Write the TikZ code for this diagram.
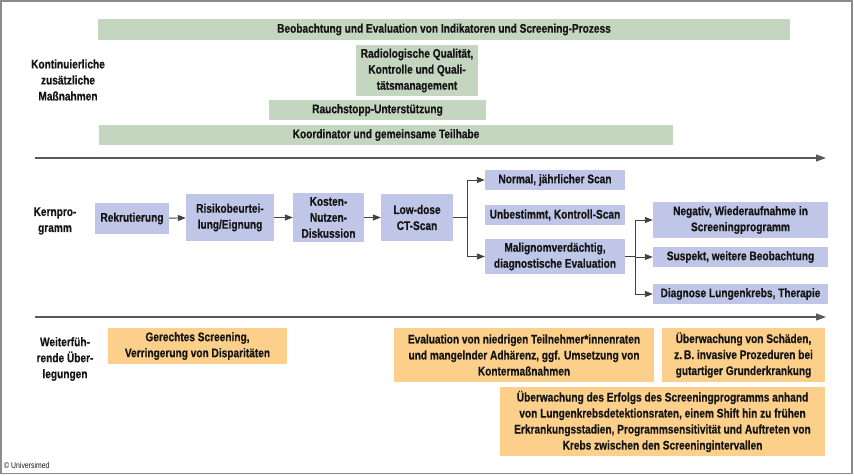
\documentclass[tikz,border=0pt]{standalone}
\usepackage{fontspec}
\setmainfont[FakeStretch=0.81,BoldFeatures={FakeBold=0.5}]{Liberation Sans}
\usetikzlibrary{arrows.meta}
\definecolor{mygreen}{HTML}{C4D6BF}
\definecolor{myblue}{HTML}{BFC6E7}
\definecolor{myorange}{HTML}{FCD08B}
\definecolor{mytext}{HTML}{151515}
\begin{document}
\begin{tikzpicture}[x=1pt,y=-1pt,
  every node/.style={font=\bfseries\fontsize{12.5}{16}\selectfont, inner sep=0pt, align=center, text=mytext},
  gbox/.style={fill=mygreen},
  bbox/.style={fill=myblue},
  obox/.style={fill=myorange},
  lbl/.style={},
  arr/.style={draw=black!75, line width=0.9pt, -{Triangle[length=8pt,width=6pt]}},
  ln/.style={draw=black!75, line width=0.9pt},
  tl/.style={draw=black!65, line width=1.2pt, -{Triangle[length=10pt,width=7pt]}}]
\useasboundingbox (0,0) rectangle (854,476);
\fill[white] (0,0) rectangle (854,476);
\draw[black!45, line width=1.3pt] (1,1) rectangle (852,473.5);

% continuous measures
\node[gbox, minimum width=692pt, minimum height=21pt] (beob) at (444,29.5) {Beobachtung und Evaluation von Indikatoren und Screening-Prozess};
\node[gbox, minimum width=122pt, minimum height=51pt] (radio) at (417,70.5) {Radiologische Qualität,\\Kontrolle und Quali-\\tätsmanagement};
\node[gbox, minimum width=217pt, minimum height=20pt] (rauch) at (377.5,110) {Rauchstopp-Unterstützung};
\node[gbox, minimum width=574pt, minimum height=20pt] (koord) at (386,135) {Koordinator und gemeinsame Teilhabe};
\node[lbl] (kont) at (68,80) {Kontinuierliche\\zusätzliche\\Maßnahmen};

\coordinate (t1s) at (35,158);
\coordinate (t1e) at (826,158);
\draw[tl] (t1s) -- (t1e);

% core program
\node[lbl] (kern) at (55,221) {Kernpro-\\gramm};
\node[bbox, minimum width=74pt, minimum height=31pt] (rekr) at (132,218.5) {Rekrutierung};
\node[bbox, minimum width=88pt, minimum height=47pt] (risk) at (230,217.5) {Risikobeurtei-\\lung/Eignung};
\node[bbox, minimum width=71pt, minimum height=49pt] (kost) at (328.5,217.5) {Kosten-\\Nutzen-\\Diskussion};
\node[bbox, minimum width=72pt, minimum height=47pt] (lowd) at (417,217.5) {Low-dose\\CT-Scan};
\draw[arr] (rekr) -- (risk);
\draw[arr] (risk) -- (kost);
\draw[arr] (kost) -- (lowd);

\node[bbox, minimum width=140pt, minimum height=20pt] (normal) at (555,180) {Normal, jährlicher Scan};
\node[bbox, minimum width=140pt, minimum height=20pt] (unbest) at (555,215) {Unbestimmt, Kontroll-Scan};
\node[bbox, minimum width=140pt, minimum height=35pt] (malig) at (555,256.5) {Malignomverdächtig,\\diagnostische Evaluation};
\coordinate (j1) at (467,217.5);
\draw[ln] (lowd.east) -- (j1);
\draw[arr] (j1) |- (normal.west);
\draw[arr] (j1) |- (malig.west);

\node[bbox, minimum width=175pt, minimum height=36pt] (neg) at (740.5,220) {Negativ, Wiederaufnahme in\\Screeningprogramm};
\node[bbox, minimum width=175pt, minimum height=20pt] (susp) at (740.5,257) {Suspekt, weitere Beobachtung};
\node[bbox, minimum width=175pt, minimum height=20pt] (diag) at (740.5,294) {Diagnose Lungenkrebs, Therapie};
\coordinate (j2) at (635,256.5);
\draw[ln] (malig.east) -- (j2);
\draw[arr] (j2) |- (neg.west);
\draw[arr] (j2) |- (susp.west);
\draw[arr] (j2) |- (diag.west);

\coordinate (t2s) at (35,317);
\coordinate (t2e) at (826,317);
\draw[tl] (t2s) -- (t2e);

% further considerations
\node[lbl] (weiter) at (65,359) {Weiterfüh-\\rende Über-\\legungen};
\node[obox, minimum width=179pt, minimum height=36pt] (ger) at (197.5,346) {Gerechtes Screening,\\Verringerung von Disparitäten};
\node[obox, minimum width=260pt, minimum height=54pt] (eval) at (524,355) {Evaluation von niedrigen Teilnehmer*innenraten\\und mangelnder Adhärenz, ggf. Umsetzung von\\Kontermaßnahmen};
\node[obox, minimum width=163pt, minimum height=54pt] (schad) at (743.5,355) {Überwachung von Schäden,\\z.\,B. invasive Prozeduren bei\\gutartiger Grunderkrankung};
\node[obox, minimum width=325pt, minimum height=69pt] (erf) at (662.5,421.5) {Überwachung des Erfolgs des Screeningprogramms anhand\\von Lungenkrebsdetektionsraten, einem Shift hin zu frühen\\Erkrankungsstadien, Programmsensitivität und Auftreten von\\Krebs zwischen den Screeningintervallen};

\node[anchor=west, font=\fontsize{8.5}{10}\selectfont] (copy) at (4,465) {© Universimed};
\end{tikzpicture}
\end{document}
